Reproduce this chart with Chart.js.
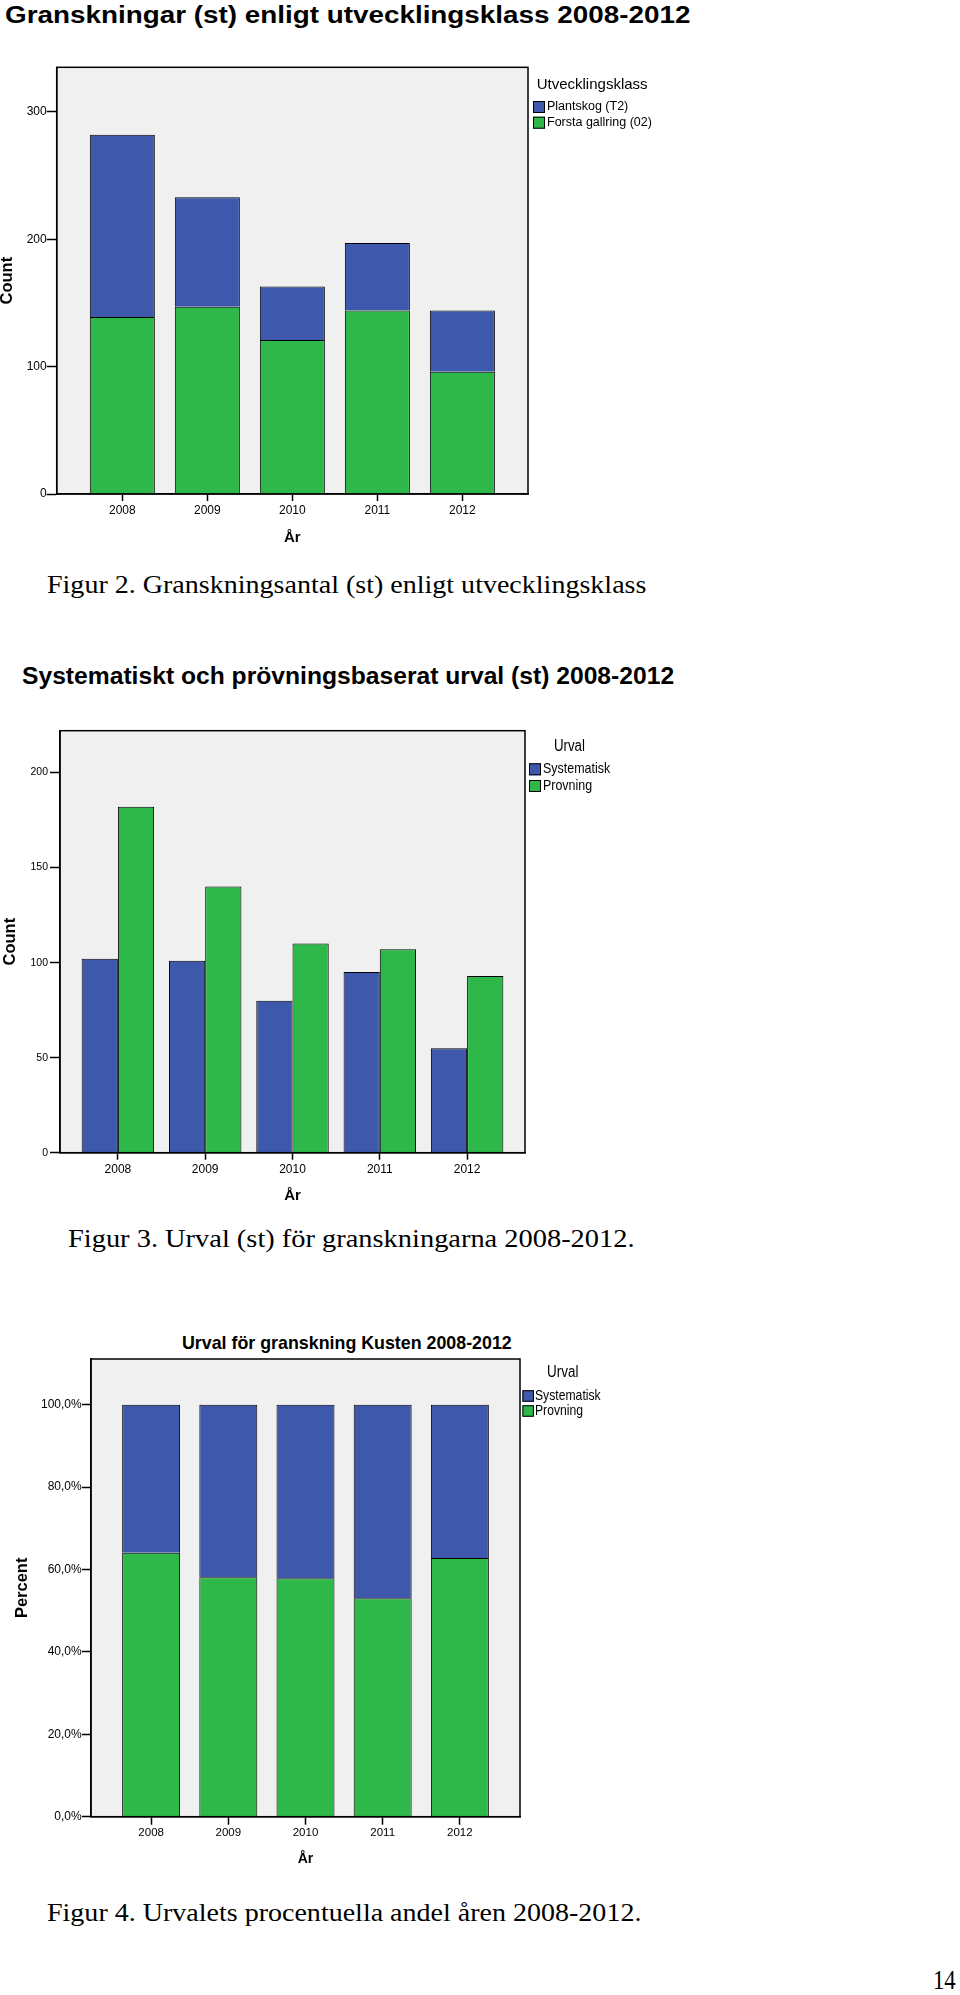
<!DOCTYPE html>
<html><head><meta charset="utf-8">
<script src="https://cdn.jsdelivr.net/npm/chart.js@4.4.1/dist/chart.umd.min.js"></script>
<style>
html,body{margin:0;padding:0;background:#fff;}
body{width:960px;height:1995px;position:relative;overflow:hidden;}
.t{position:absolute;white-space:nowrap;transform-origin:0 50%;line-height:1;color:#000;}
.sans{font-family:'Liberation Sans',Arial,sans-serif;font-weight:bold;}
.serif{font-family:'Liberation Serif','Times New Roman',serif;}
canvas{position:absolute;left:0;}
</style></head><body>
<div class="t sans" data-x="4.5" data-y="15" data-w="685" style="font-size:23px">Granskningar (st) enligt utvecklingsklass 2008-2012</div>
<div class="t serif" data-x="46.7" data-y="585" data-w="599" style="font-size:25.5px">Figur 2. Granskningsantal (st) enligt utvecklingsklass</div>
<div class="t sans" data-x="22.4" data-y="676.7" data-w="651.6" style="font-size:23px">Systematiskt och prövningsbaserat urval (st) 2008-2012</div>
<div class="t serif" data-x="68" data-y="1238.3" data-w="566" style="font-size:25.5px">Figur 3. Urval (st) för granskningarna 2008-2012.</div>
<div class="t sans" data-x="181.6" data-y="1343.3" data-w="329.4" style="font-size:18.5px">Urval för granskning Kusten 2008-2012</div>
<div class="t serif" data-x="47.3" data-y="1913.2" data-w="594.4" style="font-size:25.5px">Figur 4. Urvalets procentuella andel åren 2008-2012.</div>
<div class="t serif" data-x="933.3" data-y="1980" data-w="22.7" style="font-size:28px">14</div>
<canvas id="c1" width="960" height="520" style="top:40px"></canvas>
<canvas id="c2" width="960" height="580" style="top:640px"></canvas>
<canvas id="c3" width="960" height="560" style="top:1320px"></canvas>
<script>
// ---------- data ----------
const years = [2008, 2009, 2010, 2011, 2012];

// Figur 2: Granskningar (st) enligt utvecklingsklass
const klassLabels = ['Plantskog (T2)', 'Forsta gallring (02)'];
const fig2Plantskog = [143, 86, 42, 53, 48];
const fig2Gallring = [139, 147, 121, 144, 96];
const fig2Ticks = [0, 100, 200, 300];

// Figur 3: Systematiskt och prövningsbaserat urval (st)
const urvalLabels = ['Systematisk', 'Provning'];
const fig3Systematisk = [102, 101, 80, 95, 55];
const fig3Provning = [182, 140, 110, 107, 93];
const fig3Ticks = [0, 50, 100, 150, 200];

// Figur 4: Urval för granskning Kusten (procent)
const fig4Systematisk = [35.9, 41.9, 42.1, 47.0, 37.2];
const fig4Provning = [64.1, 58.1, 57.9, 53.0, 62.8];
const fig4Ticks = [0, 20, 40, 60, 80, 100];

// ---------- styling ----------
const BLUE = '#3e58ab';
const GREEN = '#2eb84a';
const SANS = "'Liberation Sans', Arial, sans-serif";
Chart.defaults.font.family = SANS;
Chart.defaults.color = '#000';

// place html texts
document.querySelectorAll('.t').forEach(el => {
  const fs = parseFloat(el.style.fontSize);
  el.style.left = el.dataset.x + 'px';
  el.style.top = (parseFloat(el.dataset.y) - fs / 2) + 'px';
  const w = el.offsetWidth;
  el.style.transform = 'scaleX(' + (parseFloat(el.dataset.w) / w) + ')';
});

const framePlugin = {
  id: 'frame',
  beforeDraw(chart) {
    const {ctx, chartArea: a} = chart;
    ctx.save();
    ctx.fillStyle = '#f0f0f0';
    ctx.fillRect(a.left, a.top, a.right - a.left, a.bottom - a.top);
    ctx.restore();
  },
  afterDatasetsDraw(chart) {
    const {ctx, chartArea: a} = chart;
    ctx.save();
    ctx.strokeStyle = '#000';
    ctx.lineWidth = 1.5;
    ctx.strokeRect(a.left, a.top, a.right - a.left, a.bottom - a.top);
    ctx.restore();
  }
};

const legendPlugin = {
  id: 'boxLegend',
  afterDraw(chart, args, o) {
    const ctx = chart.ctx;
    const txt = (s, x, y, sx) => {
      ctx.save(); ctx.translate(x, y); ctx.scale(sx, 1); ctx.fillText(s, 0, 0); ctx.restore();
    };
    ctx.save();
    ctx.textBaseline = 'middle';
    ctx.textAlign = 'left';
    ctx.fillStyle = '#000';
    ctx.font = o.titleFont;
    txt(o.title, o.titleX, o.titleY, o.sx);
    ctx.font = o.font;
    o.order.forEach((di, k) => {
      const ds = chart.data.datasets[di];
      const cy = o.firstY + k * o.rowGap;
      ctx.fillStyle = ds.backgroundColor;
      ctx.fillRect(o.boxX, cy - o.boxH / 2, o.boxW, o.boxH);
      ctx.strokeStyle = '#000';
      ctx.lineWidth = 1;
      ctx.strokeRect(o.boxX + 0.5, cy - o.boxH / 2 + 0.5, o.boxW - 1, o.boxH - 1);
      ctx.fillStyle = '#000';
      txt(ds.label, o.textX, cy, o.sx);
    });
    ctx.restore();
  }
};

function xAxis(min, max, cfg) {
  return {
    type: 'linear', min: min, max: max, offset: false, stacked: cfg.stacked,
    afterBuildTicks: s => { s.ticks = years.map(v => ({value: v})); },
    afterFit: s => { s.height = cfg.height; },
    ticks: {color: '#000', font: {size: cfg.tickSize, lineHeight: 1.2}, padding: cfg.tickPad,
            autoSkip: false, maxRotation: 0, callback: v => String(v)},
    grid: {display: true, offset: false, drawOnChartArea: false, drawTicks: true, tickLength: cfg.tickLen,
           tickColor: '#000', tickWidth: 1.5},
    border: {display: true, color: '#000', width: 1.5},
    title: {display: true, text: 'År', color: '#000',
            font: {size: cfg.titleSize, weight: 'bold', lineHeight: 1}, padding: 0}
  };
}

function yAxis(max, ticks, cfg) {
  return {
    min: 0, max: max, stacked: cfg.stacked,
    afterBuildTicks: s => { s.ticks = ticks.map(v => ({value: v})); },
    afterFit: s => { s.width = cfg.width; },
    ticks: {color: '#000', font: {size: cfg.tickSize}, padding: cfg.tickPad,
            callback: cfg.fmt || (v => String(v))},
    grid: {display: true, drawOnChartArea: false, drawTicks: true, tickLength: cfg.tickLen,
           tickColor: '#000', tickWidth: 1.5},
    border: {display: true, color: '#000', width: 1.5},
    title: {display: true, text: cfg.title, color: '#000',
            font: {size: 16.5, weight: 'bold', lineHeight: 1}, padding: {top: cfg.titlePad, bottom: 0}}
  };
}

const common = {
  responsive: false, animation: false, events: [],
  plugins: {legend: {display: false}, tooltip: {enabled: false}, title: {display: false}}
};

// ---------- Figur 2 ----------
new Chart(document.getElementById('c1'), {
  type: 'bar',
  data: {
    labels: years,
    datasets: [
      {label: klassLabels[1], data: fig2Gallring, backgroundColor: GREEN, borderColor: '#000', borderWidth: 1,
       categoryPercentage: 0.765, barPercentage: 1},
      {label: klassLabels[0], data: fig2Plantskog, backgroundColor: BLUE, borderColor: '#000', borderWidth: 1,
       categoryPercentage: 0.765, barPercentage: 1}
    ]
  },
  options: Object.assign({}, common, {
    layout: {padding: {left: 0, top: 27.3, right: 432, bottom: 14.8}},
    scales: {
      x: xAxis(2007.228, 2012.772, {stacked: true, height: 51.2, tickSize: 12, tickPad: 2.5, tickLen: 7, titleSize: 15}),
      y: yAxis(335, fig2Ticks, {stacked: true, width: 56.7, tickSize: 12, tickPad: 0, tickLen: 10, title: 'Count', titlePad: -0.6})
    },
    plugins: Object.assign({}, common.plugins, {
      boxLegend: {title: 'Utvecklingsklass', titleFont: '15px ' + SANS, titleX: 536.7, titleY: 45,
                  font: '12.5px ' + SANS, order: [1, 0], boxX: 533, boxW: 12, boxH: 12,
                  firstY: 67, rowGap: 15.7, textX: 547, sx: 1}
    })
  }),
  plugins: [framePlugin, legendPlugin]
});

// ---------- Figur 3 ----------
new Chart(document.getElementById('c2'), {
  type: 'bar',
  data: {
    labels: years,
    datasets: [
      {label: urvalLabels[0], data: fig3Systematisk, backgroundColor: BLUE, borderColor: '#000', borderWidth: 1,
       categoryPercentage: 0.83, barPercentage: 1},
      {label: urvalLabels[1], data: fig3Provning, backgroundColor: GREEN, borderColor: '#000', borderWidth: 1,
       categoryPercentage: 0.83, barPercentage: 1}
    ]
  },
  options: Object.assign({}, common, {
    layout: {padding: {left: 0, top: 90.7, right: 435, bottom: 16.5}},
    scales: {
      x: xAxis(2007.337, 2012.663, {stacked: false, height: 50.8, tickSize: 12, tickPad: 3.1, tickLen: 7, titleSize: 15}),
      y: yAxis(222, fig3Ticks, {stacked: false, width: 60, tickSize: 10.5, tickPad: 2, tickLen: 10, title: 'Count', titlePad: 2})
    },
    plugins: Object.assign({}, common.plugins, {
      boxLegend: {title: 'Urval', titleFont: '16px ' + SANS, titleX: 553.9, titleY: 107,
                  font: '15px ' + SANS, order: [0, 1], boxX: 529, boxW: 12, boxH: 12,
                  firstY: 129.3, rowGap: 16.7, textX: 543, sx: 0.83}
    })
  }),
  plugins: [framePlugin, legendPlugin]
});

// ---------- Figur 4 ----------
new Chart(document.getElementById('c3'), {
  type: 'bar',
  data: {
    labels: years,
    datasets: [
      {label: urvalLabels[1], data: fig4Provning, backgroundColor: GREEN, borderColor: '#000', borderWidth: 1,
       categoryPercentage: 0.751, barPercentage: 1},
      {label: urvalLabels[0], data: fig4Systematisk, backgroundColor: BLUE, borderColor: '#000', borderWidth: 1,
       categoryPercentage: 0.751, barPercentage: 1}
    ]
  },
  options: Object.assign({}, common, {
    layout: {padding: {left: 0, top: 39, right: 440, bottom: 13.7}},
    scales: {
      x: xAxis(2007.221, 2012.779, {stacked: true, height: 49.6, tickSize: 11.5, tickPad: 1.1, tickLen: 8, titleSize: 14}),
      y: yAxis(111.1, fig4Ticks, {stacked: true, width: 91, tickSize: 12, tickPad: 0.3, tickLen: 9, title: 'Percent', titlePad: 14.25,
              fmt: v => v.toFixed(1).replace('.', ',') + '%'})
    },
    plugins: Object.assign({}, common.plugins, {
      boxLegend: {title: 'Urval', titleFont: '16px ' + SANS, titleX: 547, titleY: 52.5,
                  font: '14.5px ' + SANS, order: [1, 0], boxX: 522.4, boxW: 11.5, boxH: 11.5,
                  firstY: 76, rowGap: 15, textX: 535, sx: 0.84}
    })
  }),
  plugins: [framePlugin, legendPlugin]
});
</script>
</body></html>
